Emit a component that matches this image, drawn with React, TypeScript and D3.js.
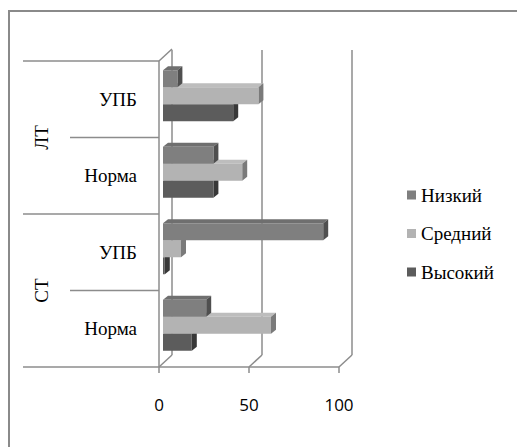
import React from 'react';
import * as d3 from 'd3';

// данные (проценты)
const categoryGroups = ['ЛТ', 'ЛТ', 'СТ', 'СТ'];
const categoryLabels = ['УПБ', 'Норма', 'УПБ', 'Норма'];
const series = ['Низкий', 'Средний', 'Высокий'];
const lowValues = [8, 28, 89, 24];
const midValues = [53, 44, 10, 60];
const highValues = [39, 28, 1, 16];
const xTicks = [0, 50, 100];

const seriesValues = [lowValues, midValues, highValues];
const colors = [
    { front: '#7f7f7f', top: '#6f6f6f', side: '#4f4f4f' },
    { front: '#b3b3b3', top: '#bdbdbd', side: '#7a7a7a' },
    { front: '#5c5c5c', top: '#4f4f4f', side: '#383838' },
];

const lineColor = '#8c8c8c';
const serifFont = "'Times New Roman', Tinos, 'Liberation Serif', serif";

const App = () => {
    const width = 517;
    const height = 447;
    const top = 61;
    const bottom = 367;
    const back = { dx: 13, dy: -12 };   // смещение задней стенки
    const barShift = { dx: 4, dy: -3.5 }; // плоскость передней грани столбиков
    const depth = { dx: 5, dy: -4 };     // глубина столбика

    const x = d3.scaleLinear().domain([0, 100]).range([159, 339]);
    const yCat = d3.scaleBand<number>()
        .domain(d3.range(categoryLabels.length))
        .range([top, bottom]);
    const ySer = d3.scaleBand<string>()
        .domain(series)
        .range([0, yCat.bandwidth()])
        .paddingInner(0)
        .paddingOuter(0.75);

    // столбики рисуем снизу вверх, чтобы верхние перекрывали грани нижних
    const bars: JSX.Element[] = [];
    for (let i = categoryLabels.length - 1; i >= 0; i--) {
        for (let s = series.length - 1; s >= 0; s--) {
            const v = seriesValues[s][i];
            const x0 = x(0) + barShift.dx;
            const x1 = x(v) + barShift.dx;
            const y0 = yCat(i)! + ySer(series[s])! + barShift.dy;
            const y1 = y0 + ySer.bandwidth();
            const c = colors[s];
            bars.push(
                <g key={`${i}-${s}`}>
                    <path
                        d={`M${x0},${y0}L${x0 + depth.dx},${y0 + depth.dy}L${x1 + depth.dx},${y0 + depth.dy}L${x1},${y0}Z`}
                        fill={c.top}
                    />
                    <path
                        d={`M${x1},${y0}L${x1 + depth.dx},${y0 + depth.dy}L${x1 + depth.dx},${y1 + depth.dy}L${x1},${y1}Z`}
                        fill={c.side}
                    />
                    <rect x={x0} y={y0} width={x1 - x0} height={y1 - y0} fill={c.front} />
                </g>
            );
        }
    }

    // границы категорий
    const boundaries = d3.range(categoryLabels.length + 1).map(i => {
        const y = i < categoryLabels.length ? yCat(i)! : bottom;
        const isGroup = i === 0 || i === categoryLabels.length || categoryGroups[i] !== categoryGroups[i - 1];
        return { y, x0: isGroup ? 23 : 70 };
    });

    const groups = Array.from(new Set(categoryGroups)).map(g => {
        const idx = categoryGroups.map((c, i) => (c === g ? i : -1)).filter(i => i >= 0);
        const y0 = yCat(idx[0])!;
        const y1 = yCat(idx[idx.length - 1])! + yCat.bandwidth();
        return { name: g, cy: (y0 + y1) / 2 };
    });

    return (
        <svg width={width} height={height}
            style={{ position: 'absolute', left: 0, top: 0, background: '#fff' }}>
            <path d={`M9,${height}V11H${width}`} fill="none" stroke="#8a8a8a" strokeWidth={2} />

            {/* задняя стенка и пол */}
            {xTicks.map(t => (
                <g key={t} stroke={lineColor} strokeWidth={1.5}>
                    <line x1={x(t) + back.dx} x2={x(t) + back.dx} y1={50} y2={bottom + back.dy} />
                    <line x1={x(t)} x2={x(t) + back.dx} y1={bottom} y2={bottom + back.dy} />
                    <line x1={x(t)} x2={x(t)} y1={bottom} y2={bottom + 6} />
                </g>
            ))}
            <line x1={x(0)} x2={x(0) + back.dx} y1={top} y2={top + back.dy} stroke={lineColor} strokeWidth={1.5} />
            <line x1={x(0)} x2={x(0)} y1={top} y2={bottom} stroke={lineColor} strokeWidth={1.5} />

            {boundaries.map((b, i) => (
                <line key={i} x1={b.x0} x2={i === boundaries.length - 1 ? x(100) : x(0)} y1={b.y} y2={b.y}
                    stroke={lineColor} strokeWidth={1.5} />
            ))}

            {bars}

            {/* лёгкий поворот, как у повёрнутых подписей, чтобы шрифт был с засечками */}
            {categoryLabels.map((l, i) => (
                <text key={i} transform={`translate(137,${yCat(i)! + yCat.bandwidth() / 2 + 6.5}) rotate(0.01)`}
                    textAnchor="end" style={{ fontFamily: serifFont }} fontSize={19} fill="#000">{l}</text>
            ))}
            {groups.map(g => (
                <text key={g.name} transform={`translate(48,${g.cy}) rotate(-90)`} textAnchor="middle"
                    style={{ fontFamily: serifFont }} fontSize={19} fill="#000">{g.name}</text>
            ))}

            {xTicks.map(t => (
                <text key={t} x={x(t)} y={411} textAnchor="middle" style={{ fontFamily: "'Open Sans', sans-serif" }}
                    fontSize={17} fill="#000">{t}</text>
            ))}

            {series.map((s, i) => (
                <g key={s} transform={`translate(407,${195 + i * 38.5})`}>
                    <rect x={0} y={-4.5} width={9} height={9} fill={colors[i].front} />
                    <text transform="translate(14,6.5) rotate(0.01)" style={{ fontFamily: serifFont }}
                        fontSize={19} fill="#000">{s}</text>
                </g>
            ))}
        </svg>
    );
};

export default App;
